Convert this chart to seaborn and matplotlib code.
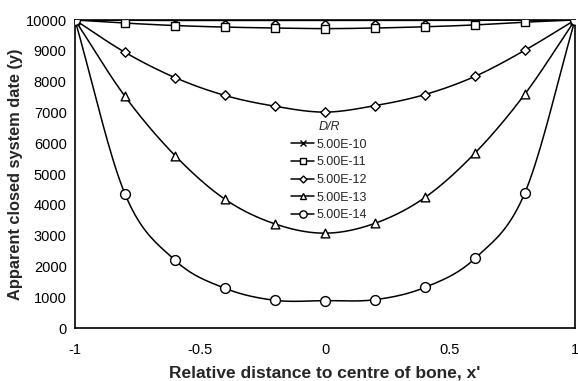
import numpy as np
import pandas as pd
import matplotlib
matplotlib.use("Agg")
import matplotlib.pyplot as plt
from matplotlib.lines import Line2D
import seaborn as sns

# Relative position across the bone section
x_pos = [-1.0, -0.8, -0.6, -0.4, -0.2, 0.0, 0.2, 0.4, 0.6, 0.8, 1.0]

# Apparent closed system date (years) for each D/R value
dr_labels = ["5.00E-10", "5.00E-11", "5.00E-12", "5.00E-13", "5.00E-14"]
date_e10 = [10000, 9990, 9985, 9985, 9985, 9985, 9985, 9985, 9990, 9995, 10000]
date_e11 = [10000, 9900, 9820, 9770, 9740, 9720, 9740, 9780, 9840, 9930, 10000]
date_e12 = [10000, 8950, 8130, 7550, 7200, 7010, 7220, 7580, 8170, 9020, 10000]
date_e13 = [10000, 7520, 5600, 4180, 3380, 3080, 3400, 4240, 5680, 7600, 10000]
date_e14 = [10000, 4350, 2200, 1290, 900, 890, 920, 1320, 2260, 4400, 10000]

series = [date_e10, date_e11, date_e12, date_e13, date_e14]
markers = ["x", "s", "D", "^", "o"]
msizes = [5.5, 5.5, 4.2, 5.5, 6.2]

sns.set_theme(style="white")
plt.rcParams["font.family"] = ["Liberation Sans", "DejaVu Sans"]


def smooth_curve(x, y, n=20):
    """Catmull-Rom spline through the points, as used for smoothed lines."""
    x = np.asarray(x, float)
    y = np.asarray(y, float)
    px = np.concatenate([[2 * x[0] - x[1]], x, [2 * x[-1] - x[-2]]])
    py = np.concatenate([[2 * y[0] - y[1]], y, [2 * y[-1] - y[-2]]])
    xs, ys = [], []
    t = np.linspace(0, 1, n, endpoint=False)
    for i in range(1, len(px) - 2):
        for p, out in ((px, xs), (py, ys)):
            p0, p1, p2, p3 = p[i - 1], p[i], p[i + 1], p[i + 2]
            out.extend(0.5 * (2 * p1 + (-p0 + p2) * t
                              + (2 * p0 - 5 * p1 + 4 * p2 - p3) * t ** 2
                              + (-p0 + 3 * p1 - 3 * p2 + p3) * t ** 3))
    xs.append(x[-1])
    ys.append(y[-1])
    return np.array(xs), np.array(ys)


fig = plt.figure(figsize=(5.78, 3.81), dpi=100)
ax = fig.add_axes([0.1298, 0.139, 0.865, 0.8085])

handles = []
for label, vals, mk, ms in zip(dr_labels, series, markers, msizes):
    sx, sy = smooth_curve(x_pos, vals)
    curve = pd.DataFrame({"x": sx, "y": sy})
    sns.lineplot(data=curve, x="x", y="y", ax=ax, color="black",
                 linewidth=1.1, sort=False, estimator=None)
    pts = pd.DataFrame({"x": x_pos, "y": vals})
    if mk == "x":
        sns.scatterplot(data=pts, x="x", y="y", ax=ax, marker="x",
                        color="black", s=ms ** 2 * 1.3, linewidth=1.1, zorder=5)
    else:
        sns.scatterplot(data=pts, x="x", y="y", ax=ax, marker=mk,
                        facecolor="white", edgecolor="black",
                        s=ms ** 2 * 1.3, linewidth=1.0, zorder=5)
    handles.append(Line2D([], [], color="black", linewidth=1.1, marker=mk,
                          markersize=ms * 0.85, markerfacecolor="white",
                          markeredgecolor="black", label=label))

ax.set_xlim(-1, 1)
ax.set_ylim(0, 10000)
ax.set_xticks([-1, -0.5, 0, 0.5, 1])
ax.set_xticklabels(["-1", "-0.5", "0", "0.5", "1"])
ax.set_yticks(range(0, 10001, 1000))
ax.tick_params(axis="both", direction="inout", length=6, width=1,
               colors="black", labelsize=10.5, pad=3)
ax.tick_params(axis="x", pad=8)

for sp in ax.spines.values():
    sp.set_color("black")
    sp.set_linewidth(1.2)

ax.set_xlabel("Relative distance to centre of bone, x'", fontsize=12.5,
              fontweight="bold", labelpad=6)
ax.set_ylabel("Apparent closed system date (y)", fontsize=11.8,
              fontweight="bold", labelpad=2)

leg = ax.legend(handles=handles, title="D/R", loc="upper left",
                bbox_to_anchor=(0.415, 0.70), frameon=False, fontsize=9,
                handlelength=1.8, handletextpad=0.2, labelspacing=0.45,
                borderpad=0.2)
leg.get_title().set_fontstyle("italic")
leg.get_title().set_fontsize(9)
leg._legend_box.align = "center"

fig.savefig("out.png", dpi=100)
